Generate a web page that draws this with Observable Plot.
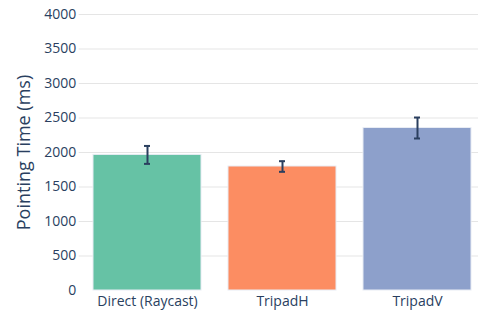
<!DOCTYPE html>
<html>
<head>
<meta charset="utf-8">
<script src="https://cdn.jsdelivr.net/npm/d3@7"></script>
<script src="https://cdn.jsdelivr.net/npm/@observablehq/plot@0.6"></script>
<style>
  html, body { margin: 0; padding: 0; background: #fff; }
</style>
</head>
<body>
<div id="chart"></div>
<script>
const techniques = ["Direct (Raycast)", "TripadH", "TripadV"];
const meanTime = [1965, 1797, 2355];
const errorTime = [130, 77, 152];
const barColors = ["#66c2a5", "#fc8d62", "#8da0cb"];
const yTicks = [0, 500, 1000, 1500, 2000, 2500, 3000, 3500, 4000];
const yLabel = "Pointing Time (ms)";

const data = techniques.map((t, i) => ({
  technique: t,
  mean: meanTime[i],
  lo: meanTime[i] - errorTime[i],
  hi: meanTime[i] + errorTime[i]
}));

const ink = "#2a3f5f";

const chart = Plot.plot({
  width: 478,
  height: 316,
  marginLeft: 78.7,
  marginRight: -7.5,
  marginTop: 14,
  marginBottom: 26,
  style: { fontFamily: "'Open Sans', sans-serif", fontSize: "14px", color: ink, background: "#fff" },
  x: { domain: techniques, paddingInner: 0.2, paddingOuter: 0.1, label: null },
  y: { domain: [0, 4000], label: null },
  color: { domain: techniques, range: barColors },
  marks: [
    Plot.ruleY(yTicks.filter(d => d > 0), { stroke: "#e5e5e5", strokeWidth: 1 }),
    Plot.barY(data, { x: "technique", y: "mean", fill: "technique", stroke: "#e8ecf4", strokeWidth: 1 }),
    Plot.ruleX(data, { x: "technique", y1: "lo", y2: "hi", stroke: ink, strokeWidth: 2 }),
    Plot.tickY(data, { x: "technique", y: "lo", stroke: ink, strokeWidth: 2, insetLeft: 51, insetRight: 51 }),
    Plot.tickY(data, { x: "technique", y: "hi", stroke: ink, strokeWidth: 2, insetLeft: 51, insetRight: 51 }),
    Plot.axisY({ ticks: yTicks, tickFormat: d => String(d), tickSize: 0, tickPadding: 3, fontSize: 14, fill: ink, label: null }),
    Plot.axisX({ tickSize: 0, tickPadding: 6, fontSize: 14, fill: ink, label: null }),
    Plot.text([yLabel], { text: d => d, frameAnchor: "left", textAnchor: "middle", rotate: -90, dx: -55, fontSize: 18, fill: ink })
  ]
});

document.getElementById("chart").appendChild(chart);
</script>
</body>
</html>
